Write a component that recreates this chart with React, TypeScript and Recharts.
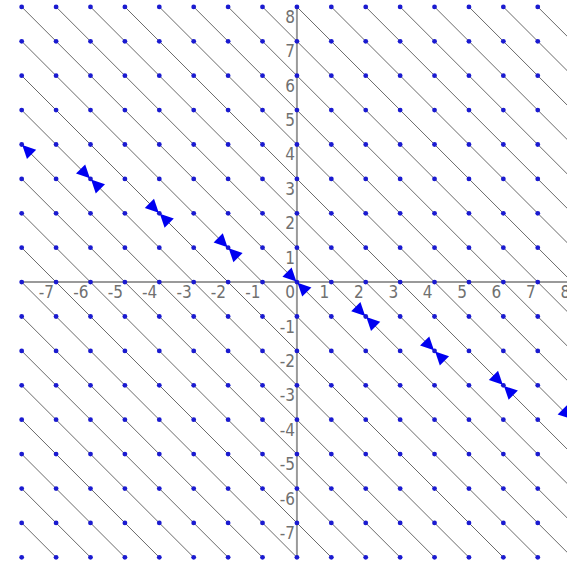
import { ScatterChart, Scatter, XAxis, YAxis, ReferenceLine } from 'recharts';

// lattice of slope-field dots
const latticeX = [-8, -7, -6, -5, -4, -3, -2, -1, 0, 1, 2, 3, 4, 5, 6, 7];
const latticeY = [-8, -7, -6, -5, -4, -3, -2, -1, 0, 1, 2, 3, 4, 5, 6, 7, 8];

// solution lines y = slope * x + c, drawn inside the [-8, 8] box
const slope = -1;
const boxMin = -8;
const boxMax = 8;
const intercepts = [
  -15, -14, -13, -12, -11, -10, -9, -8, -7, -6, -5, -4, -3, -2, -1,
  0, 1, 2, 3, 4, 5, 6, 7, 8, 9, 10, 11, 12, 13, 14, 15,
];

// arrow markers placed along y = -x/2
const arrowX = [-8, -6, -4, -2, 0, 2, 4, 6, 8];
const arrowY = [4, 3, 2, 1, 0, -1, -2, -3, -4];

const xTickLabels = [-7, -6, -5, -4, -3, -2, -1, 0, 1, 2, 3, 4, 5, 6, 7, 8];
const yTickLabels = [-7, -6, -5, -4, -3, -2, -1, 1, 2, 3, 4, 5, 6, 7, 8];

const dots = latticeX.flatMap((x) => latticeY.map((y) => ({ x, y })));
const arrows = arrowX.map((x, i) => ({
  x,
  y: arrowY[i],
  before: i > 0,
  after: i < arrowX.length - 1,
}));
const labels = [
  ...xTickLabels.map((v) => ({ x: v, y: 0, text: String(v) })),
  ...yTickLabels.map((v) => ({ x: 0, y: v, text: String(v) })),
];

const segmentFor = (c: number) => {
  const x1 = Math.max(boxMin, c - boxMax);
  const x2 = Math.min(boxMax, c - boxMin);
  return [
    { x: x1, y: slope * x1 + c },
    { x: x2, y: slope * x2 + c },
  ];
};

const BLUE = '#0000f0';

const Dot = (props: any) => <circle cx={props.cx} cy={props.cy} r={2.4} fill="#1a1ad0" />;

const Bowtie = (props: any) => {
  const { cx, cy, payload } = props;
  const ux = Math.SQRT1_2;
  const uy = Math.SQRT1_2;
  const L = 14;
  const W = 6.5;
  const tri = (s: number) => {
    const ax = cx + s * ux * 0.8;
    const ay = cy + s * uy * 0.8;
    const bx = cx + s * ux * L;
    const by = cy + s * uy * L;
    return `${ax},${ay} ${bx - uy * W},${by + ux * W} ${bx + uy * W},${by - ux * W}`;
  };
  return (
    <g>
      {payload.before && <polygon points={tri(-1)} fill={BLUE} />}
      {payload.after && <polygon points={tri(1)} fill={BLUE} />}
    </g>
  );
};

const Label = (props: any) => (
  <text
    x={props.cx - 2}
    y={props.cy + 16}
    textAnchor="end"
    fontSize={17}
    fill="#707070"
    fontFamily="'Liberation Sans Narrow', 'DejaVu Sans Condensed', sans-serif"
  >
    {props.payload.text}
  </text>
);

export default function App() {
  return (
    <>
      <style>{'body{margin:0;background:#fff}'}</style>
      <ScatterChart width={567} height={568} margin={{ top: 0, right: 0, bottom: 0, left: 0 }}>
        <XAxis type="number" dataKey="x" domain={[-8.63, 7.85]} allowDataOverflow hide />
        <YAxis type="number" dataKey="y" domain={[-8.31, 8.2]} allowDataOverflow hide />
        {intercepts.map((c) => (
          <ReferenceLine
            key={c}
            segment={segmentFor(c)}
            stroke="#6a6a6a"
            strokeWidth={1}
            ifOverflow="hidden"
          />
        ))}
        <ReferenceLine segment={[{ x: boxMin, y: 0 }, { x: boxMax, y: 0 }]} stroke="#9a9a9a" strokeWidth={2} ifOverflow="hidden" />
        <ReferenceLine segment={[{ x: 0, y: boxMin }, { x: 0, y: boxMax }]} stroke="#9a9a9a" strokeWidth={2} ifOverflow="hidden" />
        <Scatter data={labels} shape={Label} isAnimationActive={false} />
        <Scatter data={dots} shape={Dot} isAnimationActive={false} />
        <Scatter data={arrows} shape={Bowtie} isAnimationActive={false} />
      </ScatterChart>
    </>
  );
}
